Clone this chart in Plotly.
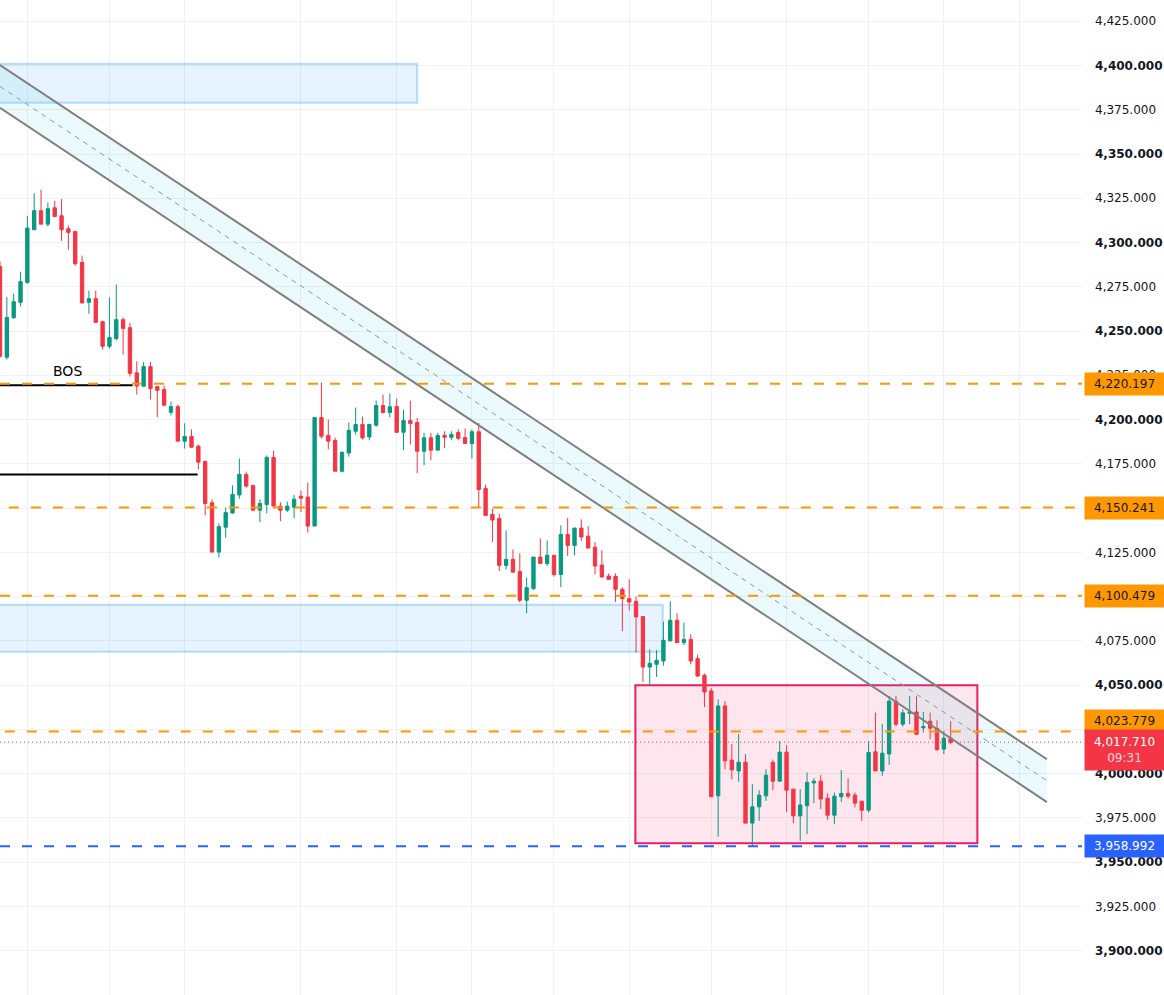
import plotly.graph_objects as go

# ---------------- data ----------------
opens = [4286.5, 4235.2, 4257.5, 4266.2, 4277.5, 4307.2, 4318.0, 4310.4, 4319.6, 4315.1,
         4307.8, 4306.3, 4288.8, 4266.2, 4268.3, 4255.3, 4241.4, 4245.7, 4256.4, 4251.9,
         4226.4, 4218.8, 4229.9, 4218.6, 4217.0, 4204.1, 4207.3, 4187.8, 4190.4, 4185.0,
         4176.3, 4153.0, 4125.1, 4139.2, 4147.2, 4157.4, 4169.0, 4162.8, 4148.8, 4152.0,
         4178.6, 4151.1, 4148.8, 4150.5, 4156.7, 4156.2, 4139.8, 4201.1, 4191.0, 4188.2,
         4170.8, 4181.1, 4193.4, 4197.2, 4190.2, 4196.8, 4207.9, 4204.0, 4207.3, 4192.8,
         4199.4, 4198.3, 4182.1, 4189.7, 4182.7, 4191.0, 4190.0, 4192.7, 4189.8, 4186.5,
         4193.1, 4161.1, 4146.4, 4144.1, 4117.6, 4121.0, 4114.2, 4097.9, 4104.5, 4122.3,
         4118.7, 4123.3, 4112.5, 4135.1, 4128.9, 4138.7, 4134.1, 4127.9, 4117.8, 4111.6,
         4111.4, 4104.1, 4098.8, 4097.3, 4088.7, 4060.2, 4061.7, 4063.6, 4074.9, 4086.6,
         4074.0, 4075.8, 4064.9, 4055.5, 4046.7, 3987.4, 4038.2, 4007.6, 4001.5, 4006.4,
         3972.0, 3981.2, 3987.4, 4006.4, 3995.7, 4012.1, 3991.2, 3976.1, 3981.8, 3994.7,
         3995.7, 3986.1, 3976.5, 3986.9, 3988.8, 3987.8, 3984.4, 3979.3, 4012.3, 4001.5,
         4011.1, 4040.9, 4027.9, 4034.1, 4034.8, 4025.8, 4029.6, 4025.6, 4013.8, 4020.0]

highs = [4289.2, 4269.2, 4271.1, 4283.5, 4315.1, 4327.9, 4329.8, 4322.6, 4323.6, 4324.6,
         4309.7, 4306.3, 4292.6, 4272.8, 4272.8, 4255.9, 4269.0, 4276.2, 4257.7, 4254.6,
         4232.9, 4232.5, 4232.5, 4218.8, 4219.2, 4210.2, 4208.5, 4197.9, 4194.4, 4185.9,
         4176.9, 4154.9, 4141.3, 4150.3, 4162.8, 4178.0, 4170.6, 4162.8, 4154.9, 4179.7,
         4182.5, 4153.3, 4153.7, 4157.5, 4159.9, 4164.4, 4201.1, 4220.9, 4200.0, 4189.8,
         4182.1, 4198.3, 4206.8, 4201.7, 4197.7, 4210.7, 4214.1, 4214.7, 4211.9, 4205.6,
         4210.7, 4201.0, 4192.5, 4192.5, 4192.5, 4193.4, 4193.4, 4194.4, 4194.9, 4194.4,
         4198.1, 4163.3, 4149.6, 4146.8, 4137.4, 4126.6, 4124.4, 4110.7, 4122.3, 4132.8,
         4131.7, 4123.3, 4140.2, 4144.5, 4138.7, 4143.6, 4139.8, 4130.8, 4126.2, 4113.1,
         4113.1, 4105.2, 4109.7, 4100.1, 4088.7, 4070.2, 4069.8, 4085.8, 4097.3, 4090.5,
         4085.3, 4078.7, 4067.2, 4056.5, 4048.2, 4042.0, 4040.9, 4016.6, 4022.3, 4010.9,
         3994.0, 3990.6, 4002.5, 4007.9, 4018.3, 4016.0, 3991.2, 3991.2, 4000.6, 3997.4,
         3999.1, 3988.9, 3989.3, 4001.9, 3997.4, 3989.3, 3984.4, 4018.4, 4034.5, 4027.9,
         4043.8, 4043.8, 4036.3, 4043.8, 4043.8, 4034.8, 4034.5, 4030.1, 4024.1, 4029.6]

lows = [4235.0, 4233.9, 4257.0, 4263.9, 4276.6, 4307.2, 4310.4, 4309.1, 4314.7, 4301.0,
        4295.9, 4286.9, 4265.5, 4259.8, 4254.9, 4239.5, 4240.1, 4244.7, 4236.7, 4224.3,
        4214.1, 4218.8, 4211.3, 4201.3, 4207.5, 4202.3, 4187.8, 4183.6, 4184.0, 4171.8,
        4146.0, 4125.1, 4122.0, 4133.2, 4146.9, 4155.3, 4161.5, 4148.2, 4142.0, 4146.9,
        4151.1, 4142.6, 4147.7, 4144.3, 4147.7, 4136.2, 4139.8, 4189.3, 4183.1, 4170.8,
        4170.1, 4179.1, 4191.5, 4188.7, 4188.3, 4195.9, 4203.4, 4201.1, 4192.5, 4182.7,
        4185.9, 4169.7, 4174.2, 4177.0, 4182.7, 4183.8, 4188.3, 4188.3, 4186.5, 4178.0,
        4150.2, 4145.8, 4130.8, 4114.4, 4115.4, 4113.8, 4096.6, 4090.5, 4103.7, 4118.7,
        4117.2, 4111.2, 4105.4, 4122.9, 4123.3, 4131.3, 4127.4, 4112.5, 4111.0, 4109.7,
        4096.9, 4080.5, 4092.2, 4068.3, 4051.8, 4049.9, 4054.6, 4060.9, 4074.9, 4074.0,
        4072.6, 4061.7, 4054.6, 4037.6, 3986.9, 3964.3, 4002.5, 3996.8, 3995.3, 3972.0,
        3959.0, 3973.3, 3984.6, 3990.6, 3995.7, 3978.4, 3972.0, 3962.0, 3965.8, 3983.3,
        3979.9, 3973.9, 3971.4, 3984.0, 3985.9, 3980.9, 3973.3, 3978.0, 4001.5, 3998.7,
        4004.9, 4026.6, 4026.6, 4027.9, 4021.7, 4023.2, 4019.4, 4012.8, 4011.0, 4016.6]

closes = [4235.7, 4257.7, 4266.6, 4277.9, 4308.2, 4318.0, 4310.4, 4319.1, 4314.7, 4307.2,
          4305.7, 4288.0, 4265.9, 4268.3, 4254.9, 4241.4, 4246.3, 4256.4, 4251.5, 4226.1,
          4218.9, 4229.9, 4217.5, 4216.5, 4208.1, 4207.3, 4187.8, 4190.4, 4184.4, 4175.9,
          4152.6, 4125.1, 4139.5, 4147.4, 4157.7, 4169.0, 4162.4, 4148.8, 4152.6, 4178.6,
          4151.1, 4148.8, 4151.1, 4155.0, 4155.6, 4139.8, 4201.1, 4190.6, 4187.8, 4170.8,
          4181.4, 4193.8, 4197.2, 4189.7, 4197.2, 4207.9, 4204.0, 4207.2, 4192.8, 4199.4,
          4197.7, 4182.1, 4189.7, 4182.7, 4191.0, 4190.0, 4191.5, 4189.4, 4186.5, 4193.1,
          4160.5, 4145.8, 4143.2, 4117.6, 4121.0, 4113.8, 4097.9, 4105.0, 4122.3, 4118.7,
          4123.3, 4112.4, 4135.1, 4128.9, 4138.7, 4133.6, 4127.4, 4117.2, 4111.0, 4109.7,
          4104.1, 4098.8, 4096.9, 4088.5, 4060.2, 4062.3, 4064.0, 4075.3, 4086.6, 4074.0,
          4075.8, 4063.6, 4055.1, 4046.1, 3986.9, 4038.2, 4007.2, 4002.1, 4006.4, 3972.0,
          3981.2, 3987.8, 3999.1, 3995.7, 4012.1, 3990.6, 3976.1, 3982.2, 3995.0, 3995.7,
          3985.6, 3976.5, 3987.2, 3988.8, 3987.2, 3983.3, 3979.3, 4011.9, 4001.5, 4011.5,
          4040.9, 4027.9, 4034.3, 4034.8, 4022.2, 4026.6, 4025.6, 4013.6, 4020.0, 4017.71]

bar_index = list(range(len(opens)))
time_ticks = [4, 16, 27, 44, 58, 69, 81, 92, 104, 115, 127, 138, 149]

price_ticks = [3875 + 25 * k for k in range(23)]          # 3875 ... 4425 (gridlines)
hidden_tick_labels = [4150, 4100, 4025]                  # covered by price tags in the original
price_labels = ["" if v in hidden_tick_labels else
                ("<b>{:,.3f}</b>".format(v) if v % 50 == 0 else "{:,.3f}".format(v))
                for v in price_ticks]

key_levels = [4220.197, 4150.241, 4100.479, 4023.779]
key_level_start = [0.0, 1.3, 0.0, 0.7]
support_level = 3958.992
last_price = 4017.710
countdown = "09:31"

supply_zone = dict(x0=-5, x1=61.0, y0=4379.0, y1=4401.0)
demand_zone = dict(x0=-5, x1=96.9, y0=4068.8, y1=4095.3)
range_box = dict(x0=92.9, x1=142.9, y0=3960.7, y1=4049.9)

channel_x = [0, 153.07]
channel_upper = [4400.3, 4008.1]
channel_lower = [4376.1, 3983.9]

bos_line = dict(x=[-5, 19.4], y=[4219.4, 4219.4])
bos_label = dict(x=9.8, y=4227.3, text="BOS")
swing_line = dict(x=[-5, 28.9], y=[4169.0, 4169.0])

X_RANGE = [0, 158.2]
Y_RANGE = [3874.9, 4437.02]

UP = "#089981"
DOWN = "#F23645"
FONT = "DejaVu Sans"

# ---------------- figure ----------------
fig = go.Figure()

# zones (between gridlines and traces)
fig.add_shape(type="rect", layer="between", xref="x", yref="y", **supply_zone,
              fillcolor="rgba(33,150,243,0.11)", line=dict(color="rgba(33,150,243,0.30)", width=2))
fig.add_shape(type="rect", layer="between", xref="x", yref="y", **demand_zone,
              fillcolor="rgba(33,150,243,0.11)", line=dict(color="rgba(33,150,243,0.30)", width=2))
fig.add_shape(type="rect", layer="between", xref="x", yref="y", **range_box,
              fillcolor="rgba(233,30,99,0.11)", line=dict(color="#E91E63", width=2))

# candles
fig.add_trace(go.Candlestick(
    x=bar_index, open=opens, high=highs, low=lows, close=closes,
    increasing=dict(line=dict(color=UP, width=1), fillcolor=UP),
    decreasing=dict(line=dict(color=DOWN, width=1), fillcolor=DOWN),
    whiskerwidth=0, hoverinfo="skip", showlegend=False))

# channel
fig.add_trace(go.Scatter(x=channel_x, y=channel_lower, mode="lines",
                         line=dict(color="#808080", width=2), hoverinfo="skip", showlegend=False))
fig.add_trace(go.Scatter(x=channel_x, y=channel_upper, mode="lines", fill="tonexty",
                         fillcolor="rgba(0,188,212,0.08)",
                         line=dict(color="#808080", width=2), hoverinfo="skip", showlegend=False))
fig.add_trace(go.Scatter(x=channel_x, y=[(a + b) / 2 for a, b in zip(channel_upper, channel_lower)],
                         mode="lines", line=dict(color="#9598A1", width=1, dash="5px,5px"),
                         hoverinfo="skip", showlegend=False))

# BOS lines
fig.add_trace(go.Scatter(x=bos_line["x"], y=bos_line["y"], mode="lines",
                         line=dict(color="#000000", width=2), hoverinfo="skip", showlegend=False))
fig.add_trace(go.Scatter(x=swing_line["x"], y=swing_line["y"], mode="lines",
                         line=dict(color="#000000", width=2), hoverinfo="skip", showlegend=False))
fig.add_annotation(x=bos_label["x"], y=bos_label["y"], text=bos_label["text"], showarrow=False,
                   font=dict(family=FONT, size=14, color="#000000"))

# horizontal levels
for lvl, xs in zip(key_levels, key_level_start):
    fig.add_shape(type="line", xref="x", yref="y", x0=xs, x1=X_RANGE[1], y0=lvl, y1=lvl,
                  line=dict(color="#FF9800", width=2, dash="10px,12px"), layer="above")
fig.add_shape(type="line", xref="x", yref="y", x0=0, x1=X_RANGE[1], y0=support_level, y1=support_level,
              line=dict(color="#2962FF", width=2, dash="10px,12px"), layer="above")
fig.add_shape(type="line", xref="x", yref="y", x0=0, x1=X_RANGE[1], y0=last_price, y1=last_price,
              line=dict(color=DOWN, width=1, dash="1px,3px"), layer="above")

# price-scale labels
def price_tag(y, text, bg, fc, yshift=0, h=18):
    fig.add_annotation(xref="paper", x=1, xanchor="left", xshift=2, yref="y", y=y, yanchor="middle",
                       yshift=yshift, text=text, showarrow=False, bgcolor=bg, borderpad=2,
                       width=75, height=h, align="center",
                       font=dict(family=FONT, size=12, color=fc))

price_tag(key_levels[0], "{:,.3f}".format(key_levels[0]), "#FF9800", "#131722")
price_tag(key_levels[1], "{:,.3f}".format(key_levels[1]), "#FF9800", "#131722")
price_tag(key_levels[2], "{:,.3f}".format(key_levels[2]), "#FF9800", "#131722")
price_tag(key_levels[3], "{:,.3f}".format(key_levels[3]), "#FF9800", "#131722", yshift=10)
price_tag(last_price, "{:,.3f}<br><span style='color:rgba(255,255,255,0.8)'>{}</span>".format(last_price, countdown),
          DOWN, "#FFFFFF", yshift=-8, h=36)
price_tag(support_level, "{:,.3f}".format(support_level), "#2962FF", "#FFFFFF")

fig.update_layout(
    width=1164, height=995,
    margin=dict(l=0, r=82, t=0, b=0),
    plot_bgcolor="#FFFFFF", paper_bgcolor="#FFFFFF",
    showlegend=False, hovermode=False,
    xaxis=dict(range=X_RANGE, rangeslider=dict(visible=False), tickmode="array", tickvals=time_ticks,
               showticklabels=False, showgrid=True, gridcolor="#EFF1F4", gridwidth=1,
               zeroline=False, showline=False, ticks=""),
    yaxis=dict(side="right", range=Y_RANGE, tickmode="array", tickvals=price_ticks, ticktext=price_labels,
               showgrid=True, gridcolor="#EFF1F4", gridwidth=1, zeroline=False, showline=False,
               ticks="", ticklabelstandoff=12,
               tickfont=dict(family=FONT, size=12, color="#131722")),
)

fig.write_html("out.html")
